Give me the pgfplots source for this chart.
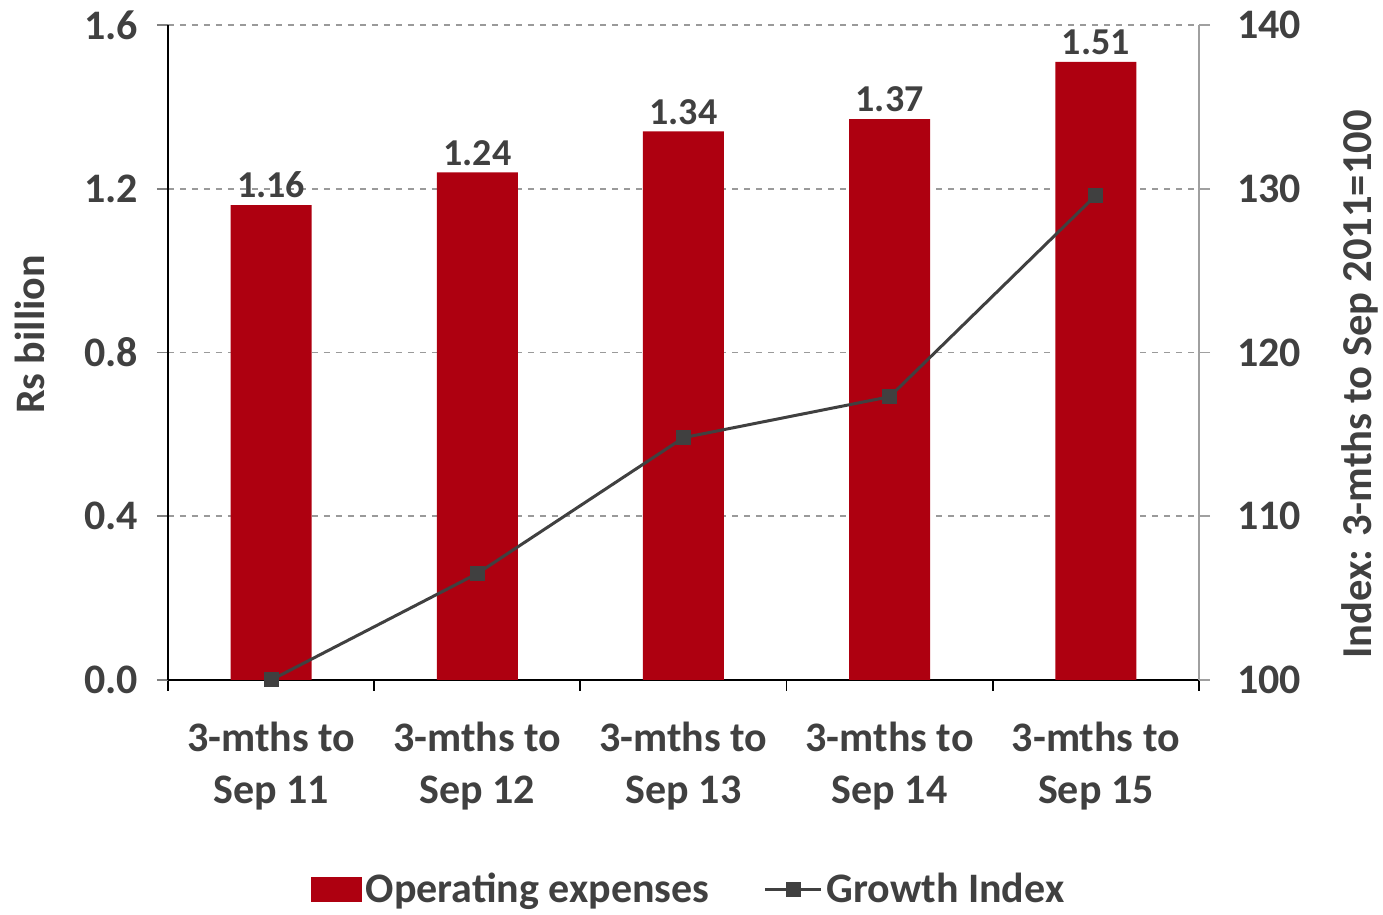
\documentclass[border=0pt]{standalone}
\usepackage{pgfplots}
\pgfplotsset{compat=1.18}
\usepackage{fontspec}
\setmainfont{Carlito}
\definecolor{barred}{HTML}{AE0010}
\definecolor{txt}{HTML}{404040}
\definecolor{gridc}{HTML}{9A9A9A}
\definecolor{raxis}{HTML}{A0A0A0}

\begin{document}
\begin{tikzpicture}
\useasboundingbox (-84pt,-117.5pt) rectangle (607.5pt,340pt);
\pgfplotsset{
  base/.style={
    scale only axis, width=515.5pt, height=327.5pt,
    xmin=-0.5, xmax=4.5,
    font=\fontsize{21}{26}\selectfont\bfseries\color{txt},
    /pgf/number format/assume math mode=true,
    tick align=outside, tick style={line width=0.9pt},
    major tick length=5.5pt,
    yticklabel style={/pgf/number format/fixed, /pgf/number format/fixed zerofill, /pgf/number format/precision=1},
  }
}
\begin{axis}[base,
  ymin=0, ymax=1.6, ytick={0,0.4,...,1.6},
  axis x line*=bottom, axis y line*=left,
  axis line style={black, line width=0.9pt, -},
  xtick={0,...,4}, major x tick style={draw=none},
  minor xtick={-0.5,0.5,...,4.5}, minor tick length=5.5pt,
  minor x tick style={black, line width=0.9pt},
  xticklabels={{3-mths to\\Sep 11},{3-mths to\\Sep 12},{3-mths to\\Sep 13},{3-mths to\\Sep 14},{3-mths to\\Sep 15}},
  xticklabel style={align=center, yshift=-12pt},
  yticklabel style={xshift=-6pt},
  ymajorgrids, grid style={gridc, dashed, line width=0.8pt},
  ylabel={Rs billion}, ylabel style={font=\fontsize{21}{24}\selectfont\bfseries\color{txt}, yshift=13pt, xshift=9pt},
  nodes near coords, point meta=explicit symbolic,
  every node near coord/.append style={font=\fontsize{19}{22}\selectfont\bfseries\color{txt}, yshift=0pt},
]
\addplot[ybar, bar width=40.5pt, fill=barred, draw=none] coordinates {
  (0,1.16) [1.16]
  (1,1.24) [1.24]
  (2,1.34) [1.34]
  (3,1.37) [1.37]
  (4,1.51) [1.51]
};
\end{axis}
\begin{axis}[base,
  ymin=100, ymax=140, ytick={100,110,...,140},
  yticklabel style={/pgf/number format/precision=0, /pgf/number format/fixed zerofill=false, xshift=10pt},
  axis x line=none, axis y line*=right,
  axis line style={raxis, line width=0.9pt, -},
  y tick style={raxis, line width=0.9pt},
  ylabel={Index: 3-mths to Sep 2011=100},
  ylabel style={font=\fontsize{21.3}{24}\selectfont\bfseries\color{txt}, yshift=-13.5pt, xshift=-16pt},
  legend style={at={(0.506,-0.32)}, anchor=center, draw=none, fill=none,
    legend columns=2, font=\fontsize{21}{26}\selectfont\bfseries\color{txt},
    /tikz/every even column/.append style={column sep=25pt}},
  legend cell align=left,
]
\addlegendimage{legend image code/.code={\fill[barred] (-2pt,-6pt) rectangle (23pt,6pt);}}
\addlegendentry{Operating expenses}
\addplot[color=txt, line width=1.5pt, mark=square*, mark size=3pt,
  legend image code/.code={\draw[txt, line width=1.5pt] (0pt,0pt) -- (28pt,0pt); \fill[txt] (11pt,-3pt) rectangle (17pt,3pt);}]
  coordinates {(0,100) (1,106.5) (2,114.8) (3,117.3) (4,129.6)};
\addlegendentry{Growth Index}
\end{axis}
\end{tikzpicture}
\end{document}
